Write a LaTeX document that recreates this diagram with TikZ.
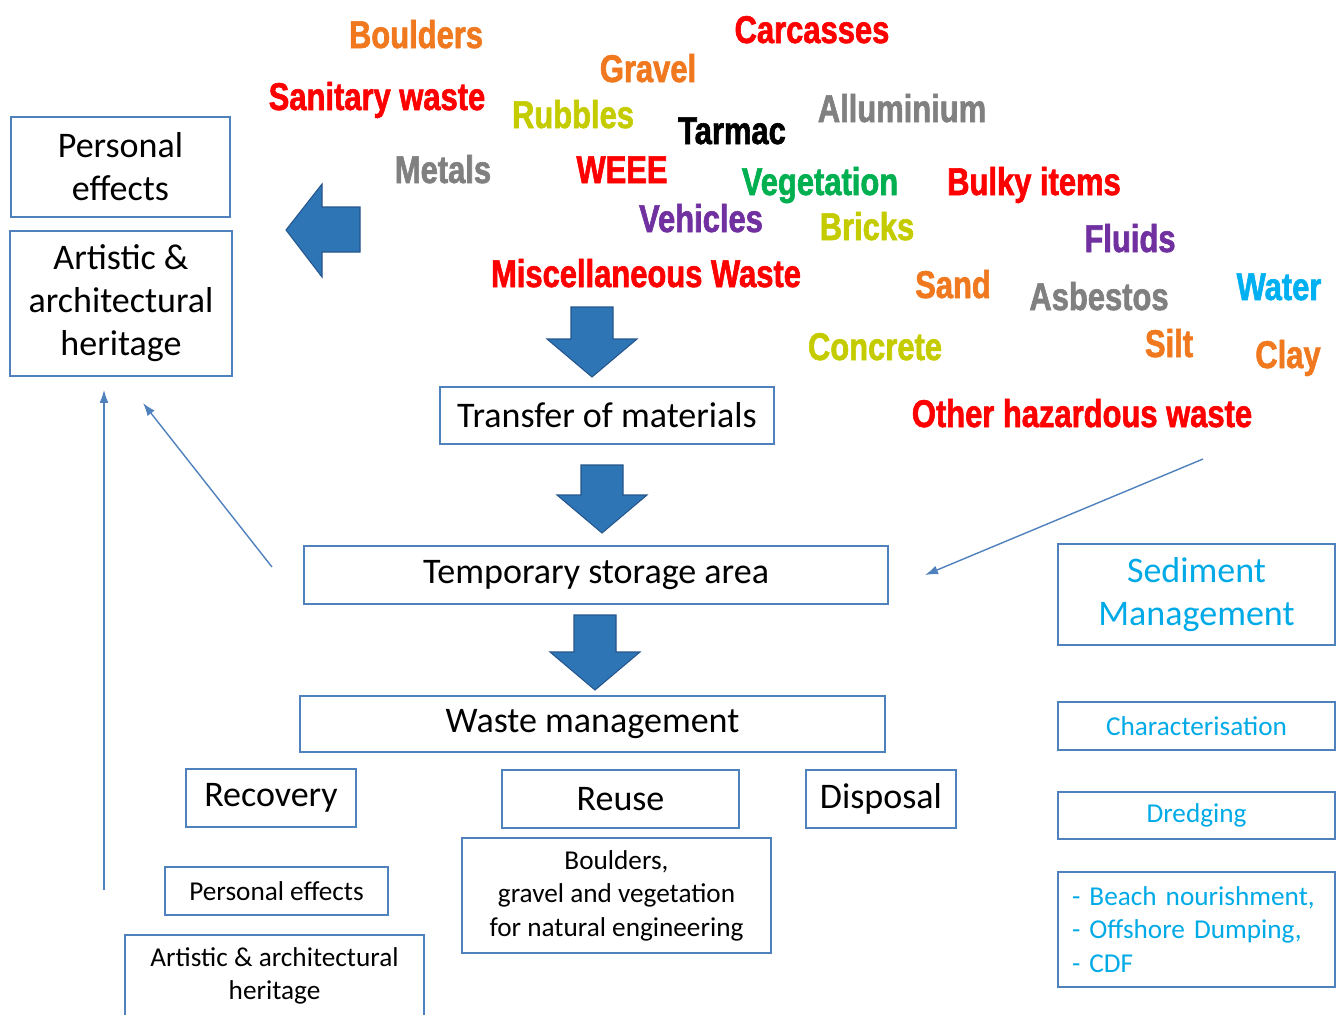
\documentclass[tikz,border=0pt]{standalone}
\usepackage{fontspec}
\setmainfont{Carlito}
\newfontfamily\cloudfont[FakeStretch=0.8, FakeBold=1.6]{Liberation Sans}
\usetikzlibrary{arrows.meta}
\definecolor{boxblue}{RGB}{79,129,189}
\definecolor{arrowfill}{RGB}{46,117,182}
\definecolor{arrowedge}{RGB}{37,86,140}
\definecolor{sedcyan}{RGB}{0,170,230}
\definecolor{wOrange}{RGB}{240,120,30}
\definecolor{wRed}{RGB}{255,0,0}
\definecolor{wLime}{RGB}{196,204,0}
\definecolor{wGrey}{RGB}{128,128,128}
\definecolor{wGreen}{RGB}{0,176,80}
\definecolor{wPurple}{RGB}{112,48,160}
\definecolor{wCyan}{RGB}{0,176,240}

\begin{document}
\begin{tikzpicture}[x=0.02cm, y=-0.02cm,
  box/.style={draw=boxblue, line width=1pt, inner sep=0pt, align=center},
  big/.style={font=\fontsize{20.5}{24.5}\selectfont},
  small/.style={font=\fontsize{15.5}{19}\selectfont},
  sed/.style={text=sedcyan},
  word/.style={anchor=base, inner sep=0pt, font=\cloudfont\bfseries\fontsize{22}{22}\selectfont},
  blockarrow/.style={fill=arrowfill, draw=arrowedge, line width=0.6pt},
  thinarrow/.style={draw=boxblue, line width=0.8pt, -{Latex[length=2.6mm,width=1.8mm]}}]
\useasboundingbox (0,0) rectangle (1338,1014);

\node[word, text=wOrange] (boulders) at (416,48) {Boulders};
\node[word, text=wRed] (carcasses) at (812,43) {Carcasses};
\node[word, text=wOrange] (gravel) at (648,82) {Gravel};
\node[word, text=wRed] (sanitary) at (377,110) {Sanitary waste};
\node[word, text=wLime] (rubbles) at (573,128) {Rubbles};
\node[word, text=black] (tarmac) at (732,144) {Tarmac};
\node[word, text=wGrey] (alluminium) at (902,122) {Alluminium};
\node[word, text=wGrey] (metals) at (443,183) {Metals};
\node[word, text=wRed] (weee) at (622,183) {WEEE};
\node[word, text=wGreen] (vegetation) at (820,195) {Vegetation};
\node[word, text=wRed] (bulky) at (1034,195) {Bulky items};
\node[word, text=wPurple] (vehicles) at (701,232) {Vehicles};
\node[word, text=wLime] (bricks) at (867,240) {Bricks};
\node[word, text=wPurple] (fluids) at (1130,252) {Fluids};
\node[word, text=wRed] (misc) at (646,287) {Miscellaneous Waste};
\node[word, text=wOrange] (sand) at (953,298) {Sand};
\node[word, text=wGrey] (asbestos) at (1099,310) {Asbestos};
\node[word, text=wCyan] (water) at (1279,300) {Water};
\node[word, text=wLime] (concrete) at (875,360) {Concrete};
\node[word, text=wOrange] (silt) at (1169,357) {Silt};
\node[word, text=wOrange] (clay) at (1288,368) {Clay};
\node[word, text=wRed] (hazardous) at (1082,427) {Other hazardous waste};

\node[box, big, minimum width=4.38cm, minimum height=2cm] (pers) at (120.5,167) {Personal\\effects};
\node[box, big, minimum width=4.44cm, minimum height=2.9cm] (heritage) at (121,303.5) {Artistic \&\\architectural\\heritage};
\node[box, big, minimum width=6.68cm, minimum height=1.14cm] (transfer) at (607,415.5) {Transfer of materials};
\node[box, big, minimum width=11.68cm, minimum height=1.16cm] (storage) at (596,575) {Temporary storage area};
\node[box, big, minimum width=11.7cm, minimum height=1.12cm] (wastemgmt) at (592.5,724) {Waste management};
\node[box, big, minimum width=3.4cm, minimum height=1.16cm] (recovery) at (271,798) {Recovery};
\node[box, big, minimum width=4.74cm, minimum height=1.16cm] (reuse) at (620.5,799) {Reuse};
\node[box, big, minimum width=3cm, minimum height=1.16cm] (disposal) at (881,799) {Disposal};
\node[box, small, minimum width=4.46cm, minimum height=0.96cm] (perssmall) at (276.5,891) {Personal effects};
\node[box, small, minimum width=5.98cm, minimum height=1.64cm] (heritagesmall) at (274.5,976) {Artistic \& architectural\\heritage};
\node[box, small, minimum width=6.18cm, minimum height=2.3cm] (natural) at (616.5,895.5) {Boulders,\\gravel and vegetation\\for natural engineering};

\node[box, big, sed, minimum width=5.54cm, minimum height=2.02cm] (sediment) at (1196.5,594.5) {Sediment\\Management};
\node[box, small, sed, minimum width=5.54cm, minimum height=0.96cm] (charact) at (1196.5,726) {Characterisation};
\node[box, small, sed, minimum width=5.54cm, minimum height=0.94cm] (dredging) at (1196.5,815.5) {Dredging};
\node[box, small, sed, minimum width=5.54cm, minimum height=2.3cm, text width=4.98cm, align=left] (options) at (1196.5,929.5) {- Beach nourishment,\\- Offshore Dumping,\\- CDF};

\draw[blockarrow] (286,230) -- (322,184) -- (322,207) -- (360,207) -- (360,252) -- (322,252) -- (322,277) -- cycle;
\foreach \x/\y/\t in {592/307/377, 602/465/533, 595/615/690}
  \draw[blockarrow] (\x-21,\y) -- (\x+21,\y) -- (\x+21,\t-38) -- (\x+45,\t-38) -- (\x,\t) -- (\x-45,\t-38) -- (\x-21,\t-38) -- cycle;

\coordinate (upstart) at (104,890);
\coordinate (diagstart) at (272,567);
\coordinate (diagend) at (143,403);
\coordinate (sedstart) at (1203,459);
\coordinate (sedend) at (925,575);
\draw[thinarrow, shorten >=0.26cm] (upstart) -- (upstart |- heritage.south);
\draw[thinarrow] (diagstart) -- (diagend);
\draw[thinarrow] (sedstart) -- (sedend);
\end{tikzpicture}
\end{document}
